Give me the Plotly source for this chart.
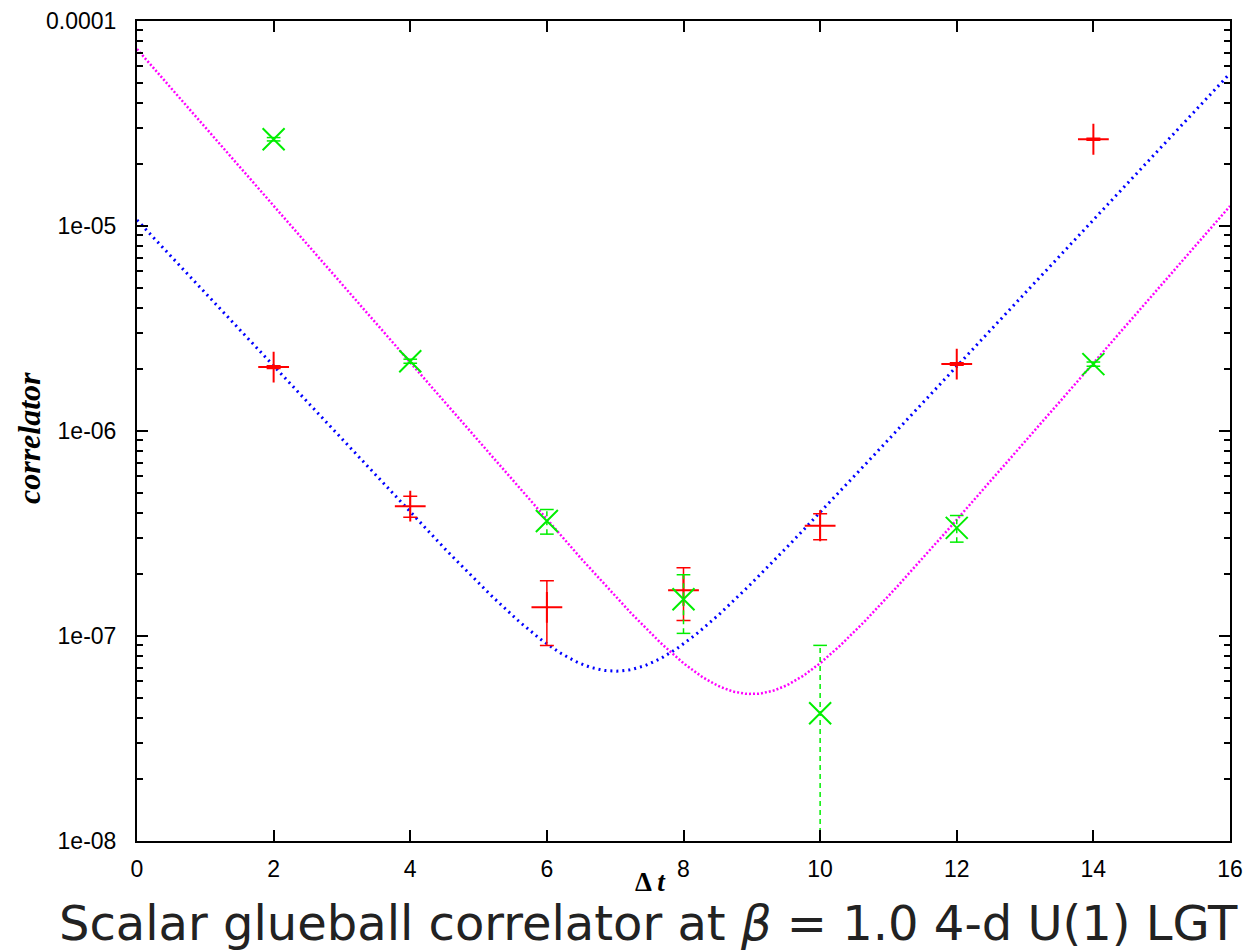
import numpy as np
import plotly.graph_objects as go

# ---- data ----
t_vals = [2, 4, 6, 8, 10, 12, 14]
red_y = [2.05e-6, 4.3e-7, 1.38e-7, 1.67e-7, 3.45e-7, 2.12e-6, 2.65e-5]
red_err = [3.0e-8, 5.0e-8, 4.8e-8, 4.8e-8, 5.0e-8, 3.0e-8, 3.0e-7]
green_y = [2.65e-5, 2.19e-6, 3.64e-7, 1.51e-7, 4.2e-8, 3.37e-7, 2.12e-6]
green_err = [5.0e-7, 5.0e-8, 5.0e-8, 4.8e-8, 4.8e-8, 5.0e-8, 5.0e-8]

# cosh fit parameters (amplitude, mass, symmetry point)
blue_fit = dict(A=1.07e-5, m=0.823, t0=7.0)
magenta_fit = dict(A=7.3e-5, m=0.882, t0=9.0)

x_ticks = [0, 2, 4, 6, 8, 10, 12, 14, 16]
y_major = [1e-8, 1e-7, 1e-6, 1e-5, 1e-4]
y_labels = ["1e-08", "1e-07", "1e-06", "1e-05", "0.0001"]


def cosh_fit(t, A, m, t0):
    return A * (np.exp(-m * t) + np.exp(-m * (2 * t0 - t)))


t_line = np.linspace(0, 16, 400)

fig = go.Figure()

fig.add_trace(go.Scatter(x=t_line, y=cosh_fit(t_line, **blue_fit), mode="lines",
                         line=dict(color="#0000ff", width=3, dash="2px,4px"),
                         showlegend=False, hoverinfo="skip"))
fig.add_trace(go.Scatter(x=t_line, y=cosh_fit(t_line, **magenta_fit), mode="lines",
                         line=dict(color="#ff00ff", width=2.5, dash="2px,2px"),
                         showlegend=False, hoverinfo="skip"))

# red points with solid error bars
fig.add_trace(go.Scatter(x=t_vals, y=red_y, mode="markers",
                         marker=dict(symbol="cross-thin", size=22, color="#ff0000",
                                     line=dict(color="#ff0000", width=2)),
                         error_y=dict(type="data", array=red_err, visible=True,
                                      color="#ff0000", thickness=1.5, width=7),
                         showlegend=False))

# green dashed error bars built from the data
cap = 0.1
seg_x, seg_y, cap_x, cap_y = [], [], [], []
for t, y, e in zip(t_vals, green_y, green_err):
    lo = max(y - e, 1e-12)
    hi = y + e
    seg_x += [t, t, None]
    seg_y += [lo, hi, None]
    for v in (lo, hi):
        cap_x += [t - cap, t + cap, None]
        cap_y += [v, v, None]
fig.add_trace(go.Scatter(x=seg_x, y=seg_y, mode="lines",
                         line=dict(color="#00ee00", width=1.5, dash="5px,4px"),
                         showlegend=False, hoverinfo="skip"))
fig.add_trace(go.Scatter(x=cap_x, y=cap_y, mode="lines",
                         line=dict(color="#00ee00", width=1.5),
                         showlegend=False, hoverinfo="skip"))
fig.add_trace(go.Scatter(x=t_vals, y=green_y, mode="markers",
                         marker=dict(symbol="x-thin", size=22, color="#00ee00",
                                     line=dict(color="#00ee00", width=2)),
                         showlegend=False))

minor_vals = [k * 10.0 ** d for d in range(-8, -4) for k in range(2, 10)]

axis_font = dict(family="Liberation Sans, Arial, sans-serif", size=23, color="black")

fig.update_xaxes(range=[0, 16], tickvals=x_ticks, ticks="inside", ticklen=11,
                 tickwidth=1.5, tickcolor="black", showline=True, linecolor="black",
                 linewidth=2, mirror="ticks", showgrid=False, zeroline=False,
                 tickfont=axis_font, ticklabelstandoff=6, ticklabeloverflow="allow",
                 automargin=False)
fig.update_yaxes(type="log", range=[-8, -4], tickvals=y_major, ticktext=y_labels,
                 ticks="inside", ticklen=11, tickwidth=1.5, tickcolor="black",
                 showline=True, linecolor="black", linewidth=2, mirror="ticks",
                 showgrid=False, zeroline=False, tickfont=axis_font,
                 ticklabelstandoff=14, ticklabeloverflow="allow", automargin=False,
                 minor=dict(tickvals=minor_vals, ticks="inside", ticklen=6,
                            tickwidth=1.5, tickcolor="black", showgrid=False))

fig.update_layout(
    width=1251, height=944,
    margin=dict(l=129, r=29, t=13, b=111, autoexpand=False),
    paper_bgcolor="white", plot_bgcolor="white",
    annotations=[
        dict(text="<b><i>correlator</i></b>", xref="paper", yref="paper",
             x=(29 - 137) / 1093, y=(840 - 437) / 820, textangle=-90, showarrow=False,
             xanchor="center", yanchor="middle",
             font=dict(family="Liberation Serif, Times New Roman, serif", size=32, color="black")),
        dict(text="<b>Δ <i>t</i></b>", xref="paper", yref="paper",
             x=(650 - 137) / 1093, y=(840 - 881) / 820, showarrow=False,
             xanchor="center", yanchor="middle",
             font=dict(family="Liberation Serif, Times New Roman, serif", size=27, color="black")),
        dict(text="Scalar glueball correlator at <i>β</i> = 1.0 4-d U(1) LGT",
             xref="paper", yref="paper",
             x=(648 - 137) / 1093, y=(840 - 922) / 820, showarrow=False,
             xanchor="center", yanchor="middle",
             font=dict(family="DejaVu Sans, sans-serif", size=48, color="#222222")),
    ],
)

fig.write_html("out.html")
